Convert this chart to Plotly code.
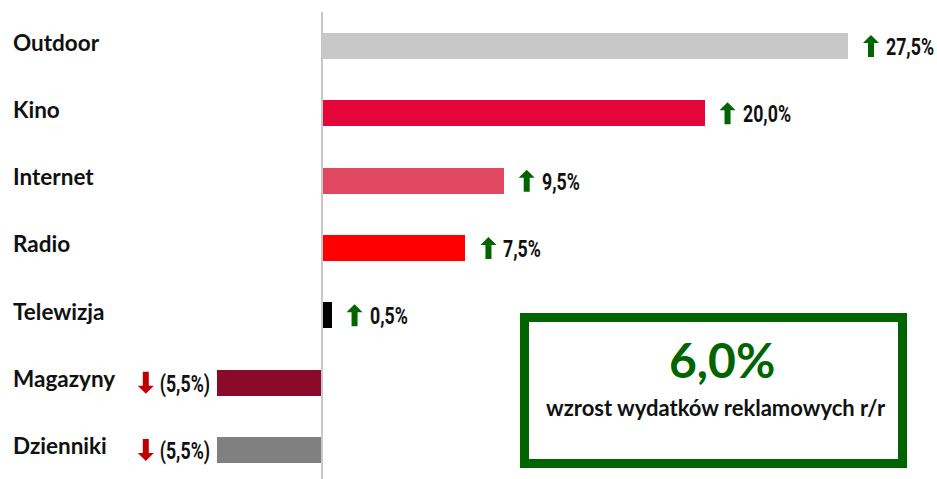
import plotly.graph_objects as go

categories = ["Outdoor", "Kino", "Internet", "Radio", "Telewizja", "Magazyny", "Dzienniki"]
values = [27.5, 20.0, 9.5, 7.5, 0.5, -5.5, -5.5]
bar_colors = ["#c8c8c8", "#e4063a", "#e04862", "#ff0000", "#000000", "#8b0a29", "#808080"]
headline_value = "6,0%"
headline_text = "wzrost wydatków reklamowych r/r"


def fmt(v):
    s = f"{abs(v):.1f}".replace(".", ",") + "%"
    return f"({s})" if v < 0 else s


W, H = 937, 479
fig = go.Figure()
fig.add_trace(go.Bar(
    x=values, y=categories, orientation="h",
    marker=dict(color=bar_colors, line=dict(width=0)),
    width=0.386, hoverinfo="x+y",
))

VAL_FONT = dict(family="Roboto, sans-serif", size=24, color="#111111")


def arrow_path(cx, up=True):
    # pixel path centered horizontally at cx, vertically at 0 (pixel units, y up)
    s = 1 if up else -1
    pts = [(cx, 11 * s), (cx - 8, 3 * s), (cx - 3, 3 * s), (cx - 3, -11 * s),
           (cx + 3, -11 * s), (cx + 3, 3 * s), (cx + 8, 3 * s)]
    return "M" + " L".join(f"{x},{y}" for x, y in pts) + " Z"


annotations = []
shapes = []
for i, (c, v) in enumerate(zip(categories, values)):
    annotations.append(dict(
        x=0, xref="paper", y=c, yref="y", xanchor="left", yanchor="middle",
        text=f"<b>{c}</b>", showarrow=False, xshift=11, yshift=4,
        font=dict(family="Lato, sans-serif", size=22.5, color="#111111"),
    ))
    if v >= 0:
        shapes.append(dict(
            type="path", xref="x", yref="y", xsizemode="pixel", ysizemode="pixel",
            xanchor=v, yanchor=i, path=arrow_path(23, True),
            fillcolor="#006400", line=dict(width=0),
        ))
        annotations.append(dict(
            x=v, y=c, xref="x", yref="y", xanchor="left", yanchor="middle", align="left",
            text=f"<b>{fmt(v)}</b>", showarrow=False, xshift=36, yshift=-1,
            font=VAL_FONT,
        ))
    else:
        annotations.append(dict(
            x=v, y=c, xref="x", yref="y", xanchor="right", yanchor="middle", align="right",
            text=f"<b>{fmt(v)}</b>", showarrow=False, xshift=-5, yshift=-1,
            font=VAL_FONT,
        ))
        shapes.append(dict(
            type="path", xref="x", yref="y", xsizemode="pixel", ysizemode="pixel",
            xanchor=v, yanchor=i, path=arrow_path(-71, False),
            fillcolor="#c00000", line=dict(width=0),
        ))

annotations.append(dict(
    x=(524.5 + 902.5) / 2 / W, y=1 - 359 / H, xref="paper", yref="paper",
    text=f"<b>{headline_value}</b>", showarrow=False, xanchor="center", yanchor="middle",
    xshift=8, font=dict(family="Lato, sans-serif", size=48, color="#006400"),
))
annotations.append(dict(
    x=(524.5 + 902.5) / 2 / W, y=1 - 407 / H, xref="paper", yref="paper",
    text=f"<b>{headline_text}</b>", showarrow=False, xanchor="center", yanchor="middle",
    xshift=2, font=dict(family="Lato, sans-serif", size=22, color="#111111"),
))

shapes += [
    dict(type="line", xref="x", yref="paper", x0=0, x1=0, y0=0, y1=1 - 12 / H,
         line=dict(color="#c8c8c8", width=2), layer="above"),
    dict(type="rect", xref="paper", yref="paper",
         x0=524.5 / W, x1=902.5 / W, y0=1 - 463.5 / H, y1=1 - 317.5 / H,
         line=dict(color="#006400", width=9), fillcolor="rgba(0,0,0,0)"),
]

px_per_unit = 526 / 27.5
x0 = -322 / px_per_unit
x1 = x0 + W / px_per_unit
row = 67.33
y0 = -46 / row
y1 = y0 + H / row

fig.update_layout(
    width=W, height=H,
    margin=dict(l=0, r=0, t=0, b=0),
    plot_bgcolor="white", paper_bgcolor="white",
    xaxis=dict(range=[x0, x1], visible=False, fixedrange=True),
    yaxis=dict(range=[y1, y0], visible=False, fixedrange=True,
               categoryorder="array", categoryarray=categories),
    showlegend=False,
    annotations=annotations,
    shapes=shapes,
    bargap=0,
)

css = (
    "text.annotation-text[style*=\"Roboto\"]{transform-box:fill-box;transform:scaleX(0.74);}"
    "text.annotation-text[style*=\"Roboto\"][text-anchor=\"start\"]{transform-origin:left center;}"
    "text.annotation-text[style*=\"Roboto\"][text-anchor=\"end\"]{transform-origin:right center;}"
)
post = (
    "document.body.style.margin='0';document.body.style.padding='0';"
    "var st=document.createElement('style');"
    f"st.textContent='{css}';"
    "document.head.appendChild(st);"
)
fig.write_html("out.html", config={"displayModeBar": False}, post_script=post)
